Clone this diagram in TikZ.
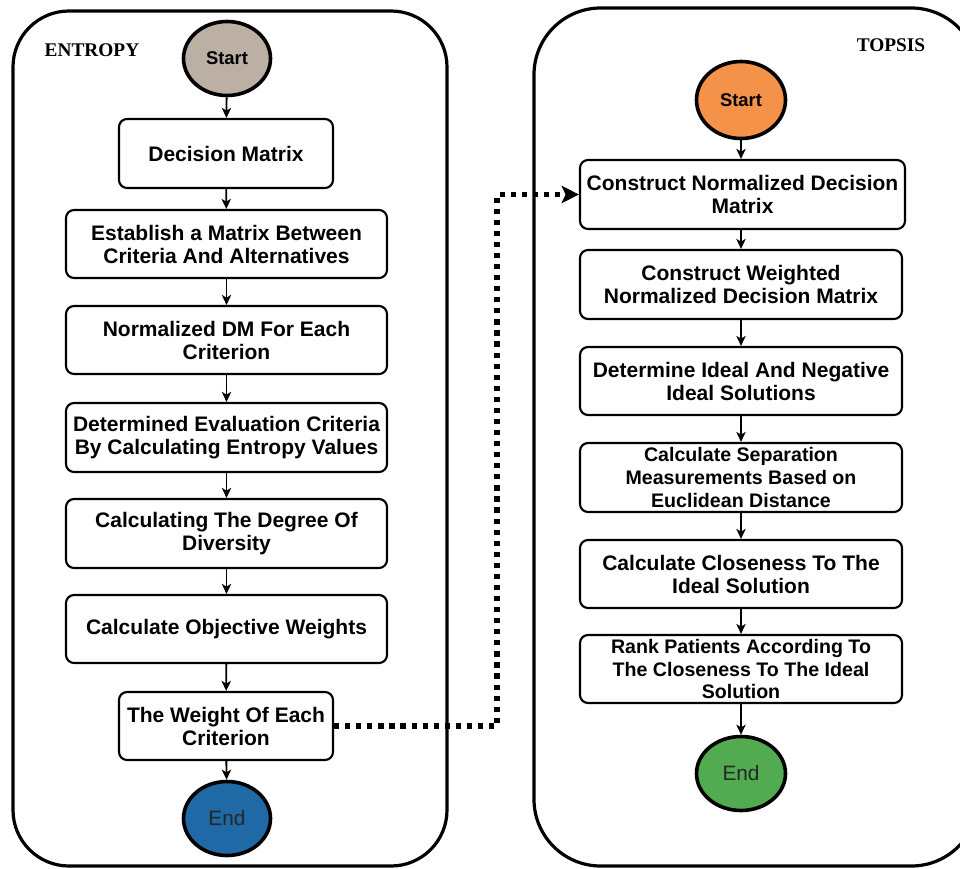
\documentclass[tikz,border=0pt]{standalone}
\usepackage{fontspec}
\setmainfont{Liberation Sans}
\newfontfamily\serifb{Liberation Serif}
\usetikzlibrary{arrows.meta,shapes.geometric}
\definecolor{startL}{HTML}{BCAFA4}
\definecolor{startR}{HTML}{F4924A}
\definecolor{endL}{HTML}{1F69A6}
\definecolor{endR}{HTML}{52AB50}
\begin{document}
\begin{tikzpicture}[x=0.75pt,y=-0.75pt,
  box/.style 2 args={draw, line width=1.6pt, rounded corners=6pt, fill=white, align=center,
    inner sep=0pt, minimum width=#1*0.75pt, minimum height=#2*0.75pt,
    font=\bfseries\fontsize{15.75}{17.25}\selectfont},
  small/.style={font=\bfseries\fontsize{14.7}{17}\selectfont},
  oval/.style={draw, ellipse, line width=2.7pt, inner sep=0pt,
    minimum width=87*0.75pt, minimum height=74*0.75pt},
  flow/.style={line width=1.4pt, -{Stealth[length=7.5pt,width=7pt,inset=2pt]}},
  link/.style={line width=3.8pt, dash pattern=on 3.9pt off 4.4pt,
    -{Stealth[length=13pt,width=13pt,inset=3pt]}},
  panel/.style={draw, line width=2.4pt, rounded corners=42pt},
  title/.style={font=\serifb\bfseries\fontsize{14.5}{16}\selectfont}
]
\useasboundingbox (0,0) rectangle (960,868);
\clip (0,0) rectangle (960,868);

% panels
\draw[panel] (13,11) rectangle (447,866);
\draw[panel, rounded corners=50pt] (534,8) rectangle (978,866);

\node[title] (t1) at (92,50) {ENTROPY};
\node[title] (t2) at (891,45) {TOPSIS};

% left column
\node[oval, fill=startL, font=\bfseries\fontsize{13.8}{15}\selectfont] (s1) at (227,58.5) {Start};
\node[box={214}{69}] (dm) at (226,153.5) {Decision Matrix};
\node[box={321}{68}] (est) at (226.5,244) {Establish a Matrix Between\\Criteria And Alternatives};
\node[box={321}{68}] (nrm) at (226.5,340) {Normalized DM For Each\\Criterion};
\node[box={321}{69}] (det) at (226.5,437.5) {Determined Evaluation Criteria\\By Calculating Entropy Values};
\node[box={321}{69}] (deg) at (226.5,533.5) {Calculating The Degree Of\\Diversity};
\node[box={321}{68}] (obj) at (226.5,629) {Calculate Objective Weights};
\node[box={214}{68}] (wt) at (226,726) {The Weight Of Each\\Criterion};
\node[oval, fill=endL, font=\fontsize{15.6}{17}\selectfont, text=black!85] (e1) at (227,818.5) {End};

% right column
\node[oval, fill=startR, minimum width=89*0.75pt, minimum height=77*0.75pt,
  font=\bfseries\fontsize{13.8}{15}\selectfont] (s2) at (741,100) {Start};
\node[box={325}{69}] (cnd) at (742.5,194.5) {Construct Normalized Decision\\Matrix};
\node[box={322}{69}] (cw) at (741,284.5) {Construct Weighted\\Normalized Decision Matrix};
\node[box={322}{68}] (di) at (741,381) {Determine Ideal And Negative\\Ideal Solutions};
\node[box={322}{69}, small] (sep) at (741,477.5) {Calculate Separation\\Measurements Based on\\Euclidean Distance};
\node[box={322}{68}] (clo) at (741,574) {Calculate Closeness To The\\Ideal Solution};
\node[box={322}{68}, small] (rk) at (741,669) {Rank Patients According To\\The Closeness To The Ideal\\Solution};
\node[oval, fill=endR, minimum width=89*0.75pt, font=\fontsize{15.6}{17}\selectfont, text=black!85] (e2) at (741,773.5) {End};

% connectors left
\draw[flow] (s1) -- (dm);
\draw[flow] (dm) -- (est);
\draw[flow] (est) -- (nrm);
\draw[flow] (nrm) -- (det);
\draw[flow] (det) -- (deg);
\draw[flow] (deg) -- (obj);
\draw[flow] (obj) -- (wt);
\draw[flow] (wt) -- (e1);

% connectors right
\draw[flow] (s2) -- (s2 |- cnd.north);
\draw[flow] (cnd.south -| cw) -- (cw);
\draw[flow] (cw) -- (di);
\draw[flow] (di) -- (sep);
\draw[flow] (sep) -- (clo);
\draw[flow] (clo) -- (rk);
\draw[flow] (rk) -- (e2);

% dotted link
\coordinate (bend) at (497,194.5);
\draw[link] (wt.east) -| (bend) -- (cnd.west);
\end{tikzpicture}
\end{document}
